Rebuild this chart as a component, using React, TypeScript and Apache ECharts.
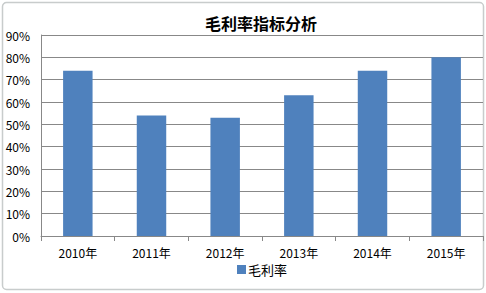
import React, { useEffect, useRef } from "react";
import * as echarts from "echarts";

const categories = ["2010年", "2011年", "2012年", "2013年", "2014年", "2015年"];
const grossMargin = [74, 54, 53, 63, 74, 80];
const seriesName = "毛利率";
const titleText = "毛利率指标分析";

export default function App() {
  const ref = useRef<HTMLDivElement>(null);
  useEffect(() => {
    if (!ref.current) return;
    const chart = echarts.init(ref.current, null, { renderer: "svg" });
    const font = "'Noto Sans CJK SC', 'DejaVu Sans', sans-serif";
    chart.setOption({
      animation: false,
      backgroundColor: "#ffffff",
      title: {
        text: titleText,
        left: 256,
        textAlign: "center",
        top: 10,
        textStyle: { fontSize: 16, fontWeight: "bold", color: "#000", fontFamily: font },
      },
      legend: {
        data: [seriesName],
        left: 232,
        top: 258,
        itemWidth: 9,
        itemHeight: 9,
        itemGap: 2,
        icon: "rect",
        textStyle: { fontSize: 13, color: "#000", fontFamily: font, padding: [0, 0, 0, -3] },
      },
      grid: { left: 41, right: 3, top: 35, bottom: 57, containLabel: false },
      graphic: [
        {
          type: "rect",
          shape: { x: 2.5, y: 2.5, width: 481, height: 287, r: 4 },
          style: { fill: "none", stroke: "#c8cccc", lineWidth: 1.5 },
          silent: true,
        },
      ],
      xAxis: {
        type: "category",
        data: categories,
        axisLine: { show: true, lineStyle: { color: "#888", width: 1 } },
        axisTick: { show: true, length: 5, lineStyle: { color: "#888" } },
        axisLabel: { fontSize: 12, color: "#000", margin: 10, fontFamily: font },
      },
      yAxis: {
        type: "value",
        min: 0,
        max: 90,
        interval: 10,
        axisLine: { show: true, lineStyle: { color: "#888", width: 1 } },
        axisTick: { show: false },
        splitLine: { show: true, lineStyle: { color: "#888", width: 1 } },
        axisLabel: { fontSize: 12, color: "#000", margin: 11, formatter: "{value}%", fontFamily: font },
      },
      series: [
        {
          name: seriesName,
          type: "bar",
          data: grossMargin,
          barWidth: "40%",
          itemStyle: { color: "#4f81bd" },
        },
      ],
    });
    return () => chart.dispose();
  }, []);
  return <div ref={ref} style={{ width: 486, height: 293, position: "fixed", left: 0, top: 0 }} />;
}
